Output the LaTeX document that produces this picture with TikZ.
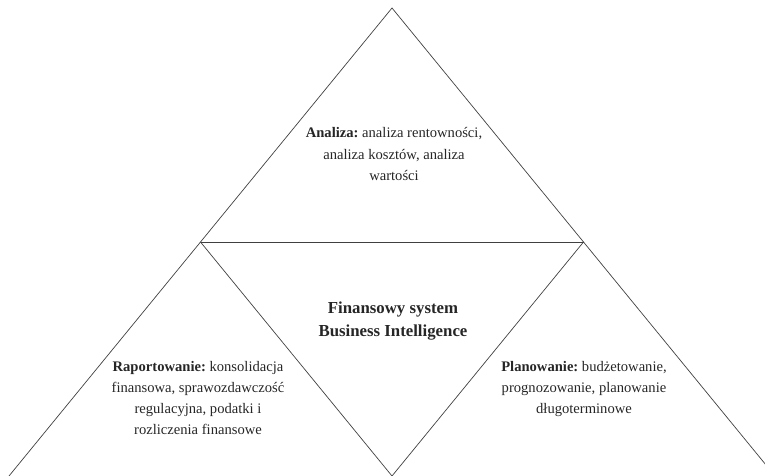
\documentclass[tikz,border=0pt]{standalone}
\usepackage{fontspec}
\setmainfont{Liberation Serif}
\begin{document}
\begin{tikzpicture}[x=1pt,y=-1pt,
  edge/.style={draw=black!75,line width=0.7pt},
  body/.style={align=center,font=\fontsize{14.6}{21.3}\selectfont,inner sep=0pt,text=black!85},
  title/.style={align=center,font=\fontsize{16.8}{23}\selectfont\bfseries,inner sep=0pt,text=black!85}]
\useasboundingbox (0,0) rectangle (765,476);
\coordinate (apex) at (392,8);
\coordinate (bl) at (9,476);
\coordinate (br) at (775,476);
\coordinate (ml) at (200.5,242);
\coordinate (mr) at (583.5,242);
\coordinate (bm) at (392,476);
\begin{scope}
\clip (0,0) rectangle (765,476);
\draw[edge] (bl) -- (apex) -- (br);
\draw[edge] (ml) -- (mr);
\draw[edge] (ml) -- (bm) -- (mr);
\end{scope}
\node[body] (analiza) at (394,154) {\textbf{Analiza:}~analiza rentowności,\\analiza kosztów, analiza\\wartości};
\node[title] (bi) at (393,321) {Finansowy system\\Business Intelligence};
\node[body] (rap) at (198,398) {\textbf{Raportowanie:}~konsolidacja\\finansowa, sprawozdawczość\\regulacyjna, podatki i\\rozliczenia finansowe};
\node[body] (plan) at (584,389) {\textbf{Planowanie:}~budżetowanie,\\prognozowanie, planowanie\\długoterminowe};
\end{tikzpicture}
\end{document}
